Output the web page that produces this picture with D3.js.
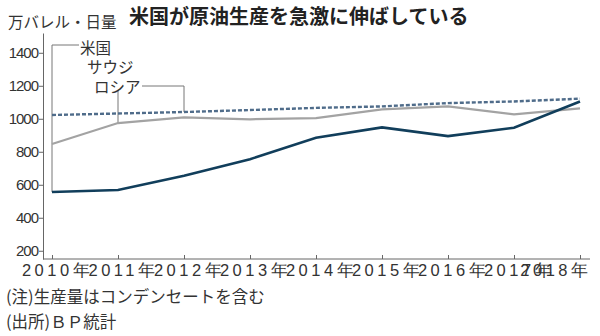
<!DOCTYPE html>
<html>
<head>
<meta charset="utf-8">
<script src="https://cdn.jsdelivr.net/npm/d3@7"></script>
<style>
  body { margin: 0; background: #fff; }
  svg { display: block; font-family: "Noto Sans CJK JP", "Noto Sans", sans-serif; }
</style>
</head>
<body>
<svg id="chart" width="600" height="336"></svg>
<script>
const years = [2010, 2011, 2012, 2013, 2014, 2015, 2016, 2017, 2018];
const yearLabels = ["2010年", "2011年", "2012年", "2013年", "2014年", "2015年", "2016年", "2017年", "2018年"];
const usa = [556, 568, 655, 755, 885, 948, 895, 946, 1105];
const saudi = [847, 974, 1009, 997, 1004, 1057, 1075, 1027, 1063];
const russia = [1023, 1032, 1041, 1053, 1066, 1075, 1095, 1105, 1122];
const yTicks = [200, 400, 600, 800, 1000, 1200, 1400];

const svg = d3.select("#chart");

const x = d3.scaleLinear().domain([2010, 2018]).range([52, 580]);
const y = d3.scaleLinear().domain([150, 1520]).range([259, 33]);

// 単位とタイトル
svg.append("text")
  .attr("x", 8).attr("y", 28)
  .attr("font-size", 15.5)
  .attr("fill", "#333")
  .text("万バレル・日量");

svg.append("text")
  .attr("x", 129).attr("y", 24)
  .attr("font-size", 20)
  .attr("font-weight", "bold")
  .attr("fill", "#222")
  .text("米国が原油生産を急激に伸ばしている");

// 縦軸
const yAxis = svg.append("g")
  .attr("transform", "translate(43,0)")
  .call(d3.axisLeft(y).tickValues(yTicks).tickSize(4).tickSizeOuter(0).tickFormat(d3.format("d")));
yAxis.select(".domain").attr("stroke", "#666");
yAxis.selectAll(".tick line").attr("stroke", "#666");
yAxis.selectAll(".tick text")
  .attr("font-size", 15)
  .attr("letter-spacing", -1)
  .attr("fill", "#333")
  .attr("x", -5);

// 横軸
const xAxis = svg.append("g")
  .attr("transform", "translate(0,259)")
  .call(d3.axisBottom(x).tickValues(years).tickSize(-4).tickFormat((d, i) => yearLabels[i]));
xAxis.select(".domain").remove();
xAxis.append("line")
  .attr("x1", 43).attr("x2", 590)
  .attr("stroke", "#666");
xAxis.selectAll(".tick line").attr("stroke", "#666");
xAxis.selectAll(".tick text")
  .attr("font-size", 16.5)
  .attr("letter-spacing", 3.5)
  .attr("fill", "#333")
  .attr("y", 5)
  .attr("dx", 5);
// 最後の年は右端に寄せる
xAxis.selectAll(".tick text")
  .filter(d => d === 2018)
  .attr("text-anchor", "end")
  .attr("dx", 11);

const line = d3.line()
  .x((d, i) => x(years[i]))
  .y(d => y(d));

// 引き出し線
const leader = svg.append("g")
  .attr("fill", "none")
  .attr("stroke", "#777")
  .attr("stroke-width", 1);

leader.append("path")
  .attr("d", `M${x(2010)},${y(usa[0])}V45H79`);
leader.append("path")
  .attr("d", `M${x(2011)},${y(saudi[1])}V90`);
leader.append("path")
  .attr("d", `M142,86H${x(2012)}V${y(russia[2])}`);

// 系列
svg.append("path")
  .datum(saudi)
  .attr("d", line)
  .attr("fill", "none")
  .attr("stroke", "#a3a3a3")
  .attr("stroke-width", 2.2);

svg.append("path")
  .datum(russia)
  .attr("d", line)
  .attr("fill", "none")
  .attr("stroke", "#4f6c8a")
  .attr("stroke-width", 2.4)
  .attr("stroke-dasharray", "4,2");

svg.append("path")
  .datum(usa)
  .attr("d", line)
  .attr("fill", "none")
  .attr("stroke", "#113e5b")
  .attr("stroke-width", 2.6);

// 系列名
const labels = svg.append("g")
  .attr("font-size", 15.5)
  .attr("fill", "#333");
labels.append("text").attr("x", 80).attr("y", 54).text("米国");
labels.append("text").attr("x", 87).attr("y", 73).text("サウジ");
labels.append("text").attr("x", 94).attr("y", 93).text("ロシア");

// 注記
const notes = svg.append("g")
  .attr("font-size", 16.5)
  .attr("fill", "#333");
notes.append("text").attr("x", 6).attr("y", 303).text("(注)生産量はコンデンセートを含む");
notes.append("text").attr("x", 6).attr("y", 328).text("(出所)ＢＰ統計");
</script>
</body>
</html>
